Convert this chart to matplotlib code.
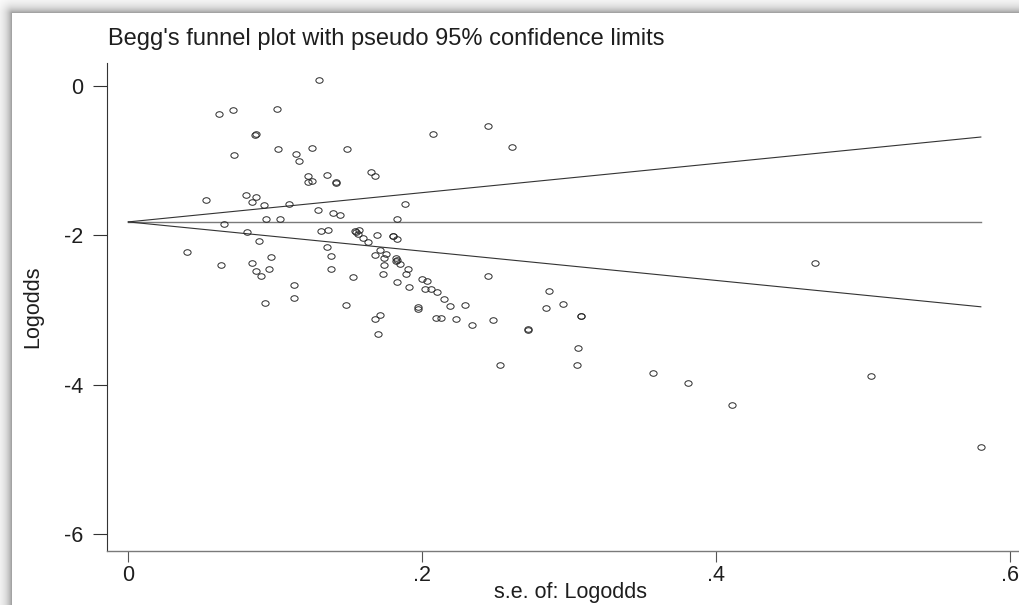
import numpy as np
import matplotlib

matplotlib.use("Agg")
import matplotlib.pyplot as plt
from matplotlib.path import Path
from matplotlib.transforms import Affine2D

# standard error and log odds of each study
se = [0.130, 0.062, 0.071, 0.101, 0.086, 0.087, 0.072, 0.102, 0.114, 0.116,
      0.125, 0.149, 0.207, 0.245, 0.261,
      0.122, 0.122, 0.125, 0.135, 0.141, 0.141, 0.165, 0.168,
      0.053, 0.080, 0.087, 0.084, 0.092, 0.109, 0.129, 0.139, 0.144, 0.188,
      0.183,
      0.065, 0.094, 0.103, 0.081, 0.089, 0.131, 0.136, 0.154, 0.155, 0.157,
      0.156, 0.160, 0.163, 0.169, 0.180, 0.180, 0.183,
      0.040, 0.063, 0.084, 0.087, 0.090, 0.096, 0.097, 0.135, 0.138, 0.138,
      0.153,
      0.171, 0.168, 0.175, 0.174, 0.182, 0.183, 0.182, 0.185, 0.174, 0.173,
      0.183,
      0.113, 0.113, 0.093, 0.148, 0.171, 0.168, 0.170,
      0.190, 0.189, 0.191, 0.200, 0.203, 0.202, 0.206, 0.210, 0.215, 0.219,
      0.229, 0.197, 0.197, 0.209, 0.213, 0.223, 0.234, 0.248, 0.245,
      0.253, 0.286, 0.296, 0.284, 0.308, 0.308, 0.272, 0.272, 0.306, 0.305,
      0.357, 0.381, 0.411, 0.467, 0.505, 0.580]

logodds = [0.080, -0.375, -0.321, -0.312, -0.660, -0.647, -0.928, -0.844,
           -0.915, -1.008, -0.830, -0.848, -0.640, -0.536, -0.817,
           -1.205, -1.290, -1.268, -1.196, -1.286, -1.303, -1.148, -1.205,
           -1.527, -1.453, -1.487, -1.558, -1.598, -1.576, -1.665, -1.701,
           -1.721, -1.584, -1.781,
           -1.848, -1.785, -1.781, -1.951, -2.072, -1.938, -1.931, -1.946,
           -1.959, -1.933, -1.982, -2.029, -2.092, -1.999, -2.005, -2.012,
           -2.049,
           -2.219, -2.397, -2.373, -2.482, -2.540, -2.451, -2.290, -2.160,
           -2.283, -2.455, -2.561,
           -2.196, -2.259, -2.247, -2.298, -2.306, -2.330, -2.348, -2.377,
           -2.401, -2.524, -2.621,
           -2.665, -2.842, -2.902, -2.937, -3.070, -3.120, -3.321,
           -2.448, -2.520, -2.685, -2.589, -2.607, -2.723, -2.715, -2.763,
           -2.857, -2.946, -2.929, -2.960, -2.986, -3.103, -3.111, -3.118,
           -3.194, -3.131, -2.541,
           -3.732, -2.748, -2.924, -2.969, -3.076, -3.083, -3.257, -3.262,
           -3.509, -3.739, -3.840, -3.977, -4.268, -2.366, -3.880, -4.839]

pooled = -1.82          # fixed-effect estimate at the funnel apex
z95 = 1.96

xticks = [0, 0.2, 0.4, 0.6]
xticklabels = ["0", ".2", ".4", ".6"]
yticks = [0, -2, -4, -6]
yticklabels = ["0", "-2", "-4", "-6"]

W, H, DPI = 1019, 605, 100
FONT = "Liberation Sans"
INK = "#1e1e1e"

fig = plt.figure(figsize=(W / DPI, H / DPI), dpi=DPI, facecolor="white")

# soft drop shadow along the top and left edge of the graph card
yy, xx = np.mgrid[0:H, 0:W]
dist = np.hypot(np.clip(12 - xx, 0, None), np.clip(13 - yy, 0, None))
shade = np.where(dist > 0, 0.36 * np.exp(-(dist - 1) / 6.0), 0.0)
card = np.repeat((1.0 - shade)[:, :, None], 3, axis=2)
fig.figimage(card, xo=0, yo=0, origin="upper", zorder=-10)

ax = fig.add_axes([107 / W, (H - 550.7) / H, (1033 - 107) / W, 488 / H])
ax.set_facecolor("none")
ax.set_zorder(5)
ax.set_xlim(-0.0145, 0.6155)
ax.set_ylim(-6.223, 0.312)

# pseudo 95% confidence limits
se_max = max(se)
ax.plot([0, se_max], [pooled, pooled], color="#7a7a7a", lw=1.0, zorder=2)
ax.plot([0, se_max], [pooled, pooled + z95 * se_max],
        color="#333333", lw=0.8, zorder=2)
ax.plot([0, se_max], [pooled, pooled - z95 * se_max],
        color="#333333", lw=0.8, zorder=2)

# slightly wide hollow circles
ring = Path.unit_circle().transformed(Affine2D().scale(1.3, 1.0))
ax.plot(se, logodds, linestyle="none", marker=ring, markersize=5.2,
        markerfacecolor="none", markeredgecolor="#2a2a2a",
        markeredgewidth=0.7, zorder=3)

for side in ("top", "right"):
    ax.spines[side].set_visible(False)
ax.spines["left"].set_color("#333333")
ax.spines["left"].set_linewidth(0.8)
ax.spines["bottom"].set_color("#7a7a7a")
ax.spines["bottom"].set_linewidth(1.0)

ax.set_xticks(xticks)
ax.set_xticklabels(xticklabels, fontfamily=FONT, fontsize=15.5, color=INK)
ax.set_yticks(yticks)
ax.set_yticklabels(yticklabels, fontfamily=FONT, fontsize=15.5, color=INK)
ax.tick_params(axis="y", length=10, width=0.8, pad=7, color="#333333")
ax.tick_params(axis="x", length=8, width=0.8, pad=2.5, color="#555555")

ax.set_xlabel("s.e. of: Logodds", fontfamily=FONT, fontsize=15.5, color=INK)
ax.xaxis.set_label_coords(0.5, -(603 - 550.7) / 488)
ax.xaxis.label.set_va("bottom")
ax.set_ylabel("Logodds", fontfamily=FONT, fontsize=15.5, color=INK,
              va="center")
ax.yaxis.set_label_coords(-(107 - 33) / (1033 - 107), 0.5)

fig.text(108 / W, 1 - 45 / H,
         "Begg's funnel plot with pseudo 95% confidence limits",
         fontfamily=FONT, fontsize=17, color=INK, ha="left", va="baseline")

fig.savefig("out.png", dpi=DPI, facecolor="white")
